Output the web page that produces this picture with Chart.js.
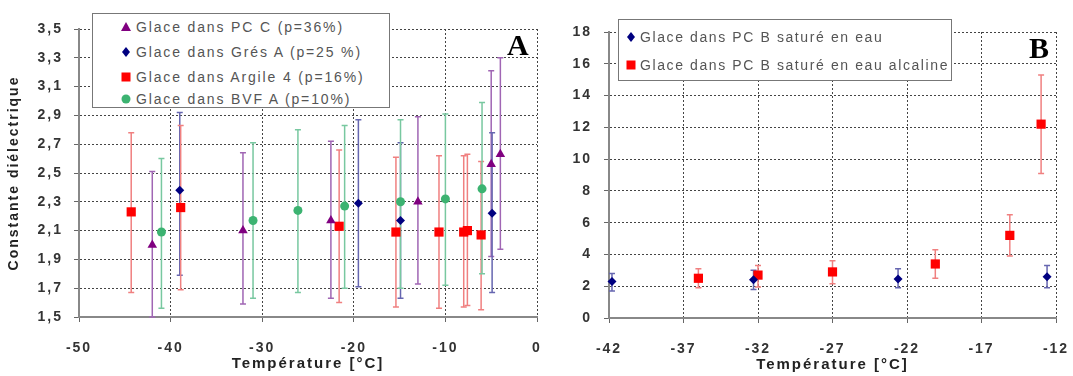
<!DOCTYPE html>
<html>
<head>
<meta charset="utf-8">
<script src="https://cdn.jsdelivr.net/npm/chart.js@4.4.0/dist/chart.umd.min.js"></script>
<style>
  body { margin: 0; background: #fff; width: 1073px; height: 376px; overflow: hidden; position: relative; font-family: "Liberation Sans", Arial, sans-serif; }
  canvas { position: absolute; top: 0; }
  .legend { position: absolute; background: #fff; border: 1.5px solid #777; box-sizing: border-box; color: #555; font-size: 14px; }
  .legend .item { position: absolute; white-space: nowrap; line-height: 16px; }
  .legend svg { position: absolute; }
  .letter { position: absolute; font-family: "Liberation Serif", "DejaVu Serif", serif; font-weight: bold; font-size: 30px; line-height: 1; }
</style>
</head>
<body>
<canvas id="chartA" width="545" height="376" style="left:0"></canvas>
<canvas id="chartB" width="528" height="376" style="left:545px"></canvas>

<div class="legend" style="left:92px; top:13px; width:298px; height:95px; letter-spacing:1.85px;">
  <svg width="12" height="12" style="left:27px; top:7px"><polygon points="6,1 11,10 1,10" fill="#800080"/></svg>
  <div class="item" style="left:43px; top:5px">Glace dans PC C (p=36%)</div>
  <svg width="12" height="12" style="left:27px; top:32px"><polygon points="6,1 10,6 6,11 2,6" fill="#000080"/></svg>
  <div class="item" style="left:43px; top:30px">Glace dans Grés A (p=25 %)</div>
  <svg width="12" height="12" style="left:27px; top:57px"><rect x="1.5" y="1.5" width="9" height="9" fill="#ff0000"/></svg>
  <div class="item" style="left:43px; top:55px">Glace dans Argile 4 (p=16%)</div>
  <svg width="12" height="12" style="left:27px; top:79px"><circle cx="6" cy="6" r="4.5" fill="#3cb371"/></svg>
  <div class="item" style="left:43px; top:77px">Glace dans BVF A (p=10%)</div>
</div>
<div class="letter" style="left:507px; top:30px">A</div>

<div class="legend" style="left:618px; top:19px; width:334px; height:62px; letter-spacing:1.6px;">
  <svg width="12" height="12" style="left:6px; top:11px"><polygon points="6,1 10,6 6,11 2,6" fill="#000080"/></svg>
  <div class="item" style="left:21px; top:9px">Glace dans PC B saturé en eau</div>
  <svg width="12" height="12" style="left:6px; top:39px"><rect x="1.5" y="1.5" width="9" height="9" fill="#ff0000"/></svg>
  <div class="item" style="left:21px; top:37px">Glace dans PC B saturé en eau alcaline</div>
</div>
<div class="letter" style="left:1029px; top:33px">B</div>

<script>
// --- graphique A : constante diélectrique selon la température
const xTicksA = [-50, -40, -30, -20, -10, 0];
const yTicksA = [1.5, 1.7, 1.9, 2.1, 2.3, 2.5, 2.7, 2.9, 3.1, 3.3, 3.5];

const pcC_x = [-42, -32.1, -22.5, -13, -5, -4];
const pcC_y = [2.00, 2.10, 2.17, 2.30, 2.56, 2.63];
const pcC_lo = [1.50, 1.59, 1.63, 1.73, 1.92, 1.97];
const pcC_hi = [2.51, 2.64, 2.72, 2.89, 3.21, 3.30];

const gres_x = [-39, -19.5, -14.9, -4.9];
const gres_y = [2.38, 2.29, 2.17, 2.22];
const gres_lo = [1.79, 1.71, 1.63, 1.67];
const gres_hi = [2.92, 2.87, 2.71, 2.78];

const argile_x = [-44.3, -38.9, -21.6, -15.4, -10.7, -8.0, -7.6, -6.1];
const argile_y = [2.23, 2.26, 2.13, 2.09, 2.09, 2.09, 2.10, 2.07];
const argile_lo = [1.67, 1.69, 1.60, 1.57, 1.56, 1.57, 1.58, 1.55];
const argile_hi = [2.78, 2.83, 2.66, 2.61, 2.62, 2.62, 2.63, 2.58];

const bvf_x = [-41, -31, -26.1, -21, -14.9, -10, -6];
const bvf_y = [2.09, 2.17, 2.24, 2.27, 2.30, 2.32, 2.39];
const bvf_lo = [1.56, 1.63, 1.67, 1.70, 1.70, 1.72, 1.80];
const bvf_hi = [2.60, 2.71, 2.80, 2.83, 2.87, 2.91, 2.99];

// --- graphique B
const xTicksB = [-42, -37, -32, -27, -22, -17, -12];
const yTicksB = [0, 2, 4, 6, 8, 10, 12, 14, 16, 18];

const eau_x = [-41.8, -32.3, -22.6, -12.6];
const eau_y = [2.3, 2.4, 2.45, 2.6];
const eau_lo = [1.7, 1.8, 1.9, 1.9];
const eau_hi = [2.8, 3.0, 3.1, 3.3];

const alc_x = [-36, -32, -27, -20.1, -15.1, -13];
const alc_y = [2.5, 2.7, 2.9, 3.4, 5.2, 12.2];
const alc_lo = [1.9, 1.95, 2.15, 2.5, 3.9, 9.1];
const alc_hi = [3.1, 3.3, 3.6, 4.3, 6.5, 15.3];

const pts = (xs, ys) => xs.map((x, i) => ({x: x, y: ys[i]}));

const errorBars = {
  id: 'errorBars',
  beforeDraw(chart) {
    chart.ctx.letterSpacing = '2px';
  },
  beforeDatasetsDraw(chart) {
    const ctx = chart.ctx;
    const xs = chart.scales.x, ys = chart.scales.y;
    chart.data.datasets.forEach(ds => {
      if (!ds.errLo) return;
      ctx.save();
      ctx.strokeStyle = ds.errColor;
      ctx.lineWidth = 1.5;
      ds.data.forEach((p, j) => {
        const px = xs.getPixelForValue(p.x);
        const top = ys.getPixelForValue(ds.errHi[j]);
        const bot = ys.getPixelForValue(ds.errLo[j]);
        ctx.beginPath();
        ctx.moveTo(px, top); ctx.lineTo(px, bot);
        ctx.moveTo(px - 3, top); ctx.lineTo(px + 3, top);
        ctx.moveTo(px - 3, bot); ctx.lineTo(px + 3, bot);
        ctx.stroke();
      });
      ctx.restore();
    });
  }
};

const tickFont = {family: '"Liberation Sans", Arial, sans-serif', size: 14, weight: 'bold'};
const titleFont = {family: '"Liberation Sans", Arial, sans-serif', size: 15, weight: 'bold'};

function serie(label, xs, ys, lo, hi, style, radius, color, errColor) {
  return {
    label: label,
    data: pts(xs, ys),
    errLo: lo, errHi: hi, errColor: errColor,
    pointStyle: style,
    pointRadius: radius,
    pointHoverRadius: radius,
    backgroundColor: color,
    borderColor: color,
    borderWidth: 0,
    showLine: false,
    clip: false
  };
}

function axes(xMin, xMax, xTicks, yMin, yMax, yTicks, yWidth, yPad, yFmt, yTitle) {
  const grid = {
    color: '#444',
    lineWidth: 1,
    tickLength: 5,
    tickColor: '#666',
    tickBorderDash: []
  };
  const border = {display: true, color: '#888', width: 2, dash: [2, 2]};
  return {
    x: {
      type: 'linear', min: xMin, max: xMax,
      afterBuildTicks: s => { s.ticks = xTicks.map(v => ({value: v})); },
      afterFit: s => { s.height = 56; s.paddingLeft = 0; s.paddingRight = 0; },
      ticks: {font: tickFont, color: '#333', padding: 18},
      grid: grid,
      border: border,
      title: {display: true, text: 'Température [°C]', font: titleFont, color: '#222', padding: {top: 0, bottom: 0}}
    },
    y: {
      type: 'linear', min: yMin, max: yMax,
      afterBuildTicks: s => { s.ticks = yTicks.map(v => ({value: v})); },
      afterFit: s => { s.width = yWidth; s.paddingTop = 0; s.paddingBottom = 0; },
      ticks: {font: tickFont, color: '#333', padding: yPad, callback: yFmt},
      grid: grid,
      border: border,
      title: {display: !!yTitle, text: yTitle, font: tickFont, color: '#222', padding: {top: 0, bottom: 4}}
    }
  };
}

new Chart(document.getElementById('chartA').getContext('2d'), {
  type: 'scatter',
  data: {
    datasets: [
      serie('Glace dans PC C (p=36%)', pcC_x, pcC_y, pcC_lo, pcC_hi, 'triangle', 5.5, '#800080', '#a066b4'),
      serie('Glace dans Grés A (p=25 %)', gres_x, gres_y, gres_lo, gres_hi, 'rectRot', 4.5, '#000080', '#6666b0'),
      serie('Glace dans Argile 4 (p=16%)', argile_x, argile_y, argile_lo, argile_hi, 'rect', 6.5, '#ff0000', '#f08080'),
      serie('Glace dans BVF A (p=10%)', bvf_x, bvf_y, bvf_lo, bvf_hi, 'circle', 4.5, '#3cb371', '#78c8a0')
    ]
  },
  options: {
    responsive: false,
    animation: false,
    layout: {padding: {left: 6, right: 8, top: 29, bottom: 3}},
    plugins: {legend: {display: false}, tooltip: {enabled: false}},
    scales: axes(-50, 0, xTicksA, 1.5, 3.5, yTicksA, 73, 11,
      v => v.toFixed(1).replace('.', ','), 'Constante diélectrique')
  },
  plugins: [errorBars]
});

new Chart(document.getElementById('chartB').getContext('2d'), {
  type: 'scatter',
  data: {
    datasets: [
      serie('Glace dans PC B saturé en eau', eau_x, eau_y, eau_lo, eau_hi, 'rectRot', 4.5, '#000080', '#6666b0'),
      serie('Glace dans PC B saturé en eau alcaline', alc_x, alc_y, alc_lo, alc_hi, 'rect', 6.5, '#ff0000', '#f08080')
    ]
  },
  options: {
    responsive: false,
    animation: false,
    layout: {padding: {left: 0, right: 17, top: 32, bottom: 2}},
    plugins: {legend: {display: false}, tooltip: {enabled: false}},
    scales: axes(-42, -12, xTicksB, 0, 18, yTicksB, 64, 12, v => String(v), '')
  },
  plugins: [errorBars]
});
</script>
</body>
</html>
